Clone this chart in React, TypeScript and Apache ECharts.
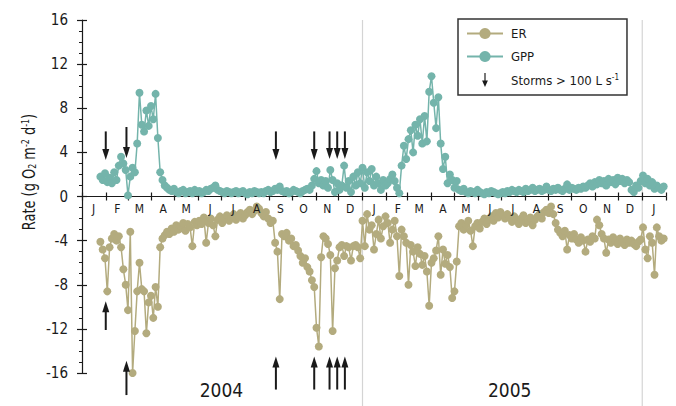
import React, { useEffect, useRef } from "react";
import * as echarts from "echarts";

const FONT = "'Liberation Sans Narrow', 'DejaVu Sans Condensed', 'Arial Narrow', sans-serif";
const ER_COLOR = "#b3ab7e";
const GPP_COLOR = "#74b4ab";
const INK = "#1a1a1a";

// axis span (daily categories) and sampling of the series
const axisStart = "2004-01-01";
const axisEnd = "2006-02-01";
const sampleStart = "2004-01-25";
const sampleStepDays = 3;

const monthLetters = ["J", "F", "M", "A", "M", "J", "J", "A", "S", "O", "N", "D"];
const yearLabelDates = ["2004-07-01", "2005-07-12"];
const yearLabelTexts = ["2004", "2005"];
const dividerDates = ["2005-01-01", "2006-01-01"];

// GPP (g O2 m-2 d-1), one value every 3 days from 2004-01-25
const gppValues = [
  1.8, 1.5, 2.1, 1.3, 1.7, 1.2, 2.2, 1.5, 2.8, 3.6,
  3.0, 2.4, 0.1, 1.8, 2.6, 2.2, 4.8, 9.4, 6.5, 5.9,
  7.8, 6.4, 8.2, 7.0, 9.3, 5.3, 2.2, 1.5, 1.0, 0.8,
  0.6, 0.5, 0.7, 0.4, 0.3, 0.5, 0.6, 0.3, 0.4, 0.5,
  0.3, 0.6, 0.4, 0.5, 0.3, 0.4, 0.6, 0.5, 0.7, 0.8,
  1.0, 0.6, 0.5, 0.4, 0.3, 0.5, 0.4, 0.3, 0.4, 0.5,
  0.3, 0.4, 0.5, 0.3, 0.2, 0.4, 0.3, 0.5, 0.4, 0.3,
  0.4, 0.3, 0.5, 0.6, 0.4, 0.5, 0.7, 0.6, 0.9, 0.5,
  0.4, 0.5, 0.3, 0.4, 0.6, 0.5, 0.4, 0.3, 0.5, 0.6,
  0.7, 0.6, 1.0, 1.6, 2.3, 1.2, 1.5, 1.0, 1.4, 0.8,
  2.4, 1.5, 0.4, 1.2, 0.6, 1.0, 2.8, 0.8, 1.4, 0.4,
  1.8, 1.0, 2.2, 1.2, 2.6, 0.8, 2.2, 1.4, 2.5, 1.0,
  1.8, 1.2, 0.6, 1.5, 1.0, 1.2, 1.6, 2.0, 1.4, 0.8,
  0.3, 2.8, 4.6, 3.4, 5.2, 6.0, 4.0, 6.5, 5.5, 7.0,
  4.8, 7.3, 5.0, 9.5, 10.9, 8.5, 6.2, 9.0, 4.8, 2.5,
  3.6, 1.2, 2.0, 1.5, 0.8, 1.4, 0.6, 0.5, 0.7, 0.4,
  0.3, 0.5, 0.4, 0.3, 0.6, 0.4, 0.3, 0.2, 0.4, 0.3,
  0.5, 0.4, 0.3, 0.2, 0.3, 0.4, 0.3, 0.5, 0.4, 0.6,
  0.5, 0.4, 0.6, 0.5, 0.4, 0.7, 0.5, 0.6, 0.8, 0.5,
  0.6, 0.7, 0.5, 0.6, 0.9, 0.6, 0.5, 0.7, 0.6, 0.8,
  0.6, 0.5, 0.7, 1.1, 0.6, 0.8, 0.7, 0.6, 0.8, 0.7,
  0.9, 0.8, 1.0, 1.2, 0.9, 1.3, 1.1, 1.5, 1.2, 1.4,
  1.0, 1.6, 1.3, 1.5, 1.1, 1.7, 1.4, 1.6, 1.2, 1.5,
  1.3, 0.6, 0.4, 1.0, 0.8, 1.4, 1.9, 1.2, 1.6, 1.0,
  1.3, 0.7, 1.0, 0.8, 0.6, 0.9,
];

// ER (g O2 m-2 d-1), same dates
const erValues = [
  -4.1, -4.8, -5.6, -8.6, -4.6, -3.8, -3.4, -4.0, -3.6, -4.6,
  -6.6, -8.0, -10.3, -3.2, -16.0, -12.2, -8.6, -6.0, -8.4, -8.6,
  -12.4, -9.6, -9.0, -11.0, -8.2, -10.0, -4.6, -3.8, -3.5, -3.2,
  -3.4, -2.9, -3.2, -2.6, -3.0, -2.7, -2.4, -3.1, -2.5, -2.8,
  -4.5, -2.3, -2.6, -2.2, -2.5, -1.9, -4.2, -2.4, -2.0, -2.6,
  -3.6, -2.1, -1.8, -2.4, -2.0, -1.7, -2.2, -1.9, -1.6, -2.1,
  -1.8, -1.5, -2.0, -1.7, -1.4, -1.2, -1.6, -1.3, -0.9, -1.1,
  -1.5, -1.8, -1.4, -2.0, -2.4, -2.2, -4.2, -5.0, -9.3, -3.4,
  -3.6, -3.3, -4.0, -3.8, -4.5, -4.4, -4.9, -5.4, -6.0, -5.6,
  -6.4, -6.8, -7.6, -8.2, -11.9, -13.6, -5.5, -3.6, -3.8, -4.3,
  -5.3, -12.2, -6.5, -5.8, -4.6, -4.4, -5.4, -4.5, -4.6, -5.8,
  -4.5, -4.4, -4.6, -5.6, -2.2, -4.5, -1.6, -3.0, -2.6, -4.8,
  -3.4, -2.1, -3.8, -2.7, -1.8, -2.4, -4.2, -3.0, -2.2, -3.6,
  -7.2, -3.0, -3.6, -4.2, -8.0, -4.4, -5.0, -6.3, -4.6, -5.2,
  -6.2, -5.4, -6.8, -9.9, -6.0, -5.6, -4.9, -3.6, -7.1, -4.8,
  -6.1, -5.3, -6.4, -9.2, -8.6, -5.9, -2.7, -2.4, -3.0, -2.6,
  -2.2, -3.1, -4.5, -2.7, -2.4, -2.9, -2.3, -2.0, -2.5, -2.1,
  -1.8, -2.2, -1.5, -1.9, -1.4, -1.7, -2.0, -1.6, -1.9, -2.3,
  -1.8, -2.1, -2.5, -2.0, -1.7, -2.4, -2.2, -1.9, -2.6, -2.1,
  -1.8, -1.6, -2.0, -1.4, -1.2, -1.5, -0.9, -1.6, -2.4, -3.0,
  -3.3, -3.6, -3.1, -4.8, -3.5, -3.8, -3.4, -3.9, -4.2, -3.7,
  -4.0, -5.0, -3.9, -4.1, -3.6, -3.8, -2.1, -2.6, -3.4, -3.8,
  -5.1, -3.9, -4.2, -3.7, -4.0, -4.3, -3.8, -4.1, -4.4, -3.9,
  -4.2, -4.0, -4.3, -4.5, -4.1, -3.9, -2.8, -4.8, -5.6, -3.6,
  -4.2, -7.1, -2.8, -3.6, -4.0, -3.8,
];

// storms > 100 L/s: arrow above (pointing down) and below (pointing up)
const stormDates = ["2004-02-01", "2004-02-28", "2004-09-10", "2004-10-30", "2004-11-19", "2004-11-29", "2004-12-09"];
const stormTopFrom = [5.9, 6.3, 5.9, 5.9, 5.9, 5.9, 5.9];
const stormTopTo = [3.3, 3.5, 3.3, 3.3, 3.4, 3.4, 3.4];
const stormBottomFrom = [-12.1, -18.0, -17.5, -17.5, -17.5, -17.5, -17.5];
const stormBottomTo = [-9.5, -14.9, -14.5, -14.5, -14.5, -14.5, -14.5];

function addDays(iso: string, n: number): string {
  const d = new Date(iso + "T00:00:00Z");
  d.setUTCDate(d.getUTCDate() + n);
  return d.toISOString().slice(0, 10);
}

const categories: string[] = [];
for (let s = axisStart; s <= axisEnd; s = addDays(s, 1)) categories.push(s);

// month letters sit at the middle of each month, on the zero line
const monthLabelDates = categories.filter((d) => d.endsWith("-16"));
const monthLabelData = monthLabelDates.map((d) => [d, 0]);

const gppData = gppValues.map((v, i) => [addDays(sampleStart, i * sampleStepDays), v]);
const erData = erValues.map((v, i) => [addDays(sampleStart, i * sampleStepDays), v]);

const arrowData: any[] = [];
stormDates.forEach((d, i) => {
  arrowData.push([d, stormTopFrom[i], stormTopTo[i]]);
  arrowData.push([d, stormBottomFrom[i], stormBottomTo[i]]);
});
const dividerData = dividerDates.map((d) => [d, 0]);

export default function App() {
  const ref = useRef<HTMLDivElement>(null);

  useEffect(() => {
    if (!ref.current) return;
    const chart = echarts.init(ref.current, undefined, { renderer: "svg" });

    const option: any = {
      animation: false,
      backgroundColor: "#ffffff",
      grid: { left: 82, right: 10, top: 20, bottom: 33, containLabel: false },
      xAxis: [
        {
          type: "category",
          data: categories,
          boundaryGap: false,
          position: "bottom",
          axisLine: { onZero: true, onZeroAxisIndex: 0, lineStyle: { color: INK, width: 1.2 } },
          axisTick: {
            show: true,
            length: 4,
            interval: (_i: number, v: string) => v.endsWith("-01"),
            lineStyle: { color: INK, width: 1.2 },
          },
          axisLabel: { show: false },
          splitLine: { show: false },
        },
        {
          type: "category",
          data: categories,
          boundaryGap: false,
          position: "top",
          axisLine: { show: false, onZero: true, onZeroAxisIndex: 0 },
          axisTick: {
            show: true,
            length: 4,
            interval: (_i: number, v: string) => v.endsWith("-01"),
            lineStyle: { color: INK, width: 1.2 },
          },
          axisLabel: { show: false },
          splitLine: { show: false },
        },
        {
          type: "category",
          data: categories,
          boundaryGap: false,
          position: "bottom",
          axisLine: { show: false, onZero: false },
          axisTick: { show: false },
          axisLabel: {
            show: true,
            interval: (_i: number, v: string) => yearLabelDates.indexOf(v) >= 0,
            formatter: (v: string) => yearLabelTexts[yearLabelDates.indexOf(v)] || "",
            fontFamily: FONT,
            fontSize: 19,
            color: INK,
            margin: 7,
          },
          splitLine: { show: false },
        },
      ],
      yAxis: [
        {
          type: "value",
          min: -16,
          max: 16,
          interval: 4,
          position: "left",
          axisLine: { show: true, onZero: false, lineStyle: { color: INK, width: 1.2 } },
          axisTick: { show: true, length: 5, lineStyle: { color: INK, width: 1.2 } },
          minorTick: { show: true, splitNumber: 4, length: 3, lineStyle: { color: INK, width: 1 } },
          axisLabel: { fontFamily: FONT, fontSize: 15, color: INK, margin: 14 },
          splitLine: { show: false },
        },
        {
          type: "value",
          min: -16,
          max: 16,
          interval: 4,
          position: "left",
          axisLine: { show: false, onZero: false },
          axisTick: { show: true, inside: true, length: 5, lineStyle: { color: INK, width: 1.2 } },
          axisLabel: { show: false },
          splitLine: { show: false },
        },
      ],
      legend: {
        orient: "vertical",
        left: 458,
        top: 19,
        padding: [8, 8, 8, 8],
        itemGap: 10,
        itemWidth: 36,
        itemHeight: 14,
        borderColor: "#333",
        borderWidth: 1.5,
        backgroundColor: "#ffffff",
        data: [
          { name: "ER" },
          { name: "GPP" },
          { name: "Storms", icon: "path://M4,0L6,0L6,13L10,13L5,24L0,13L4,13Z", itemStyle: { color: INK } },
        ],
        formatter: (name: string) => (name === "Storms" ? "Storms > 100 L s{sup|-1}" : name),
        textStyle: {
          fontFamily: FONT,
          fontSize: 13,
          color: INK,
          padding: [0, 0, 0, 3],
          rich: {
            sup: { fontFamily: FONT, fontSize: 8, color: INK, verticalAlign: "top", padding: [0, 0, 5, 0] },
          },
        },
      },
      graphic: [
        {
          type: "text",
          x: 29,
          y: 172,
          rotation: Math.PI / 2,
          scaleX: 0.8,
          style: {
            text: "Rate (g O{sub|2} m{sup|-2} d{sup|-1})",
            fontFamily: FONT,
            fontSize: 18,
            fill: INK,
            align: "center",
            verticalAlign: "middle",
            rich: {
              sub: { fontFamily: FONT, fontSize: 11, fill: INK, verticalAlign: "bottom", padding: [6, 0, 0, 0] },
              sup: { fontFamily: FONT, fontSize: 11, fill: INK, verticalAlign: "top", padding: [0, 0, 6, 0] },
            },
          },
        },
      ],
      series: [
        {
          name: "dividers",
          type: "custom",
          data: dividerData,
          z: 0,
          silent: true,
          renderItem: (params: any, api: any) => {
            const p = api.coord([api.value(0), api.value(1)]);
            return {
              type: "line",
              shape: { x1: p[0], y1: params.coordSys.y, x2: p[0], y2: api.getHeight() },
              style: { stroke: "#d4d4d4", lineWidth: 1.2 },
            };
          },
        },
        {
          name: "months",
          type: "custom",
          data: monthLabelData,
          z: 5,
          silent: true,
          renderItem: (params: any, api: any) => {
            const p = api.coord([api.value(0), api.value(1)]);
            const d = monthLabelDates[params.dataIndex];
            return {
              type: "text",
              x: p[0],
              y: p[1] + 6,
              style: {
                text: monthLetters[parseInt(d.slice(5, 7), 10) - 1],
                fontFamily: FONT,
                fontSize: 12,
                fill: INK,
                align: "center",
                verticalAlign: "top",
              },
            };
          },
        },
        {
          name: "ER",
          type: "line",
          data: erData,
          symbol: "circle",
          symbolSize: 8,
          showAllSymbol: true,
          lineStyle: { color: ER_COLOR, width: 1.5 },
          itemStyle: { color: ER_COLOR },
          z: 2,
        },
        {
          name: "GPP",
          type: "line",
          data: gppData,
          symbol: "circle",
          symbolSize: 8,
          showAllSymbol: true,
          lineStyle: { color: GPP_COLOR, width: 1.5 },
          itemStyle: { color: GPP_COLOR },
          z: 2,
        },
        {
          name: "Storms",
          type: "custom",
          data: arrowData,
          itemStyle: { color: INK },
          z: 4,
          renderItem: (_params: any, api: any) => {
            const x = api.value(0);
            const a = api.coord([x, api.value(1)]);
            const b = api.coord([x, api.value(2)]);
            const dir = b[1] > a[1] ? 1 : -1;
            const headLen = 11;
            const half = 3.5;
            return {
              type: "group",
              children: [
                {
                  type: "line",
                  shape: { x1: a[0], y1: a[1], x2: b[0], y2: b[1] - dir * (headLen - 1) },
                  style: { stroke: INK, lineWidth: 2 },
                },
                {
                  type: "polygon",
                  shape: {
                    points: [
                      [b[0] - half, b[1] - dir * headLen],
                      [b[0] + half, b[1] - dir * headLen],
                      [b[0], b[1]],
                    ],
                  },
                  style: { fill: INK },
                },
              ],
            };
          },
        },
      ],
    };

    chart.setOption(option);
    return () => chart.dispose();
  }, []);

  return (
    <div
      ref={ref}
      style={{ position: "fixed", left: 0, top: 0, width: 676, height: 406, background: "#fff" }}
    />
  );
}
